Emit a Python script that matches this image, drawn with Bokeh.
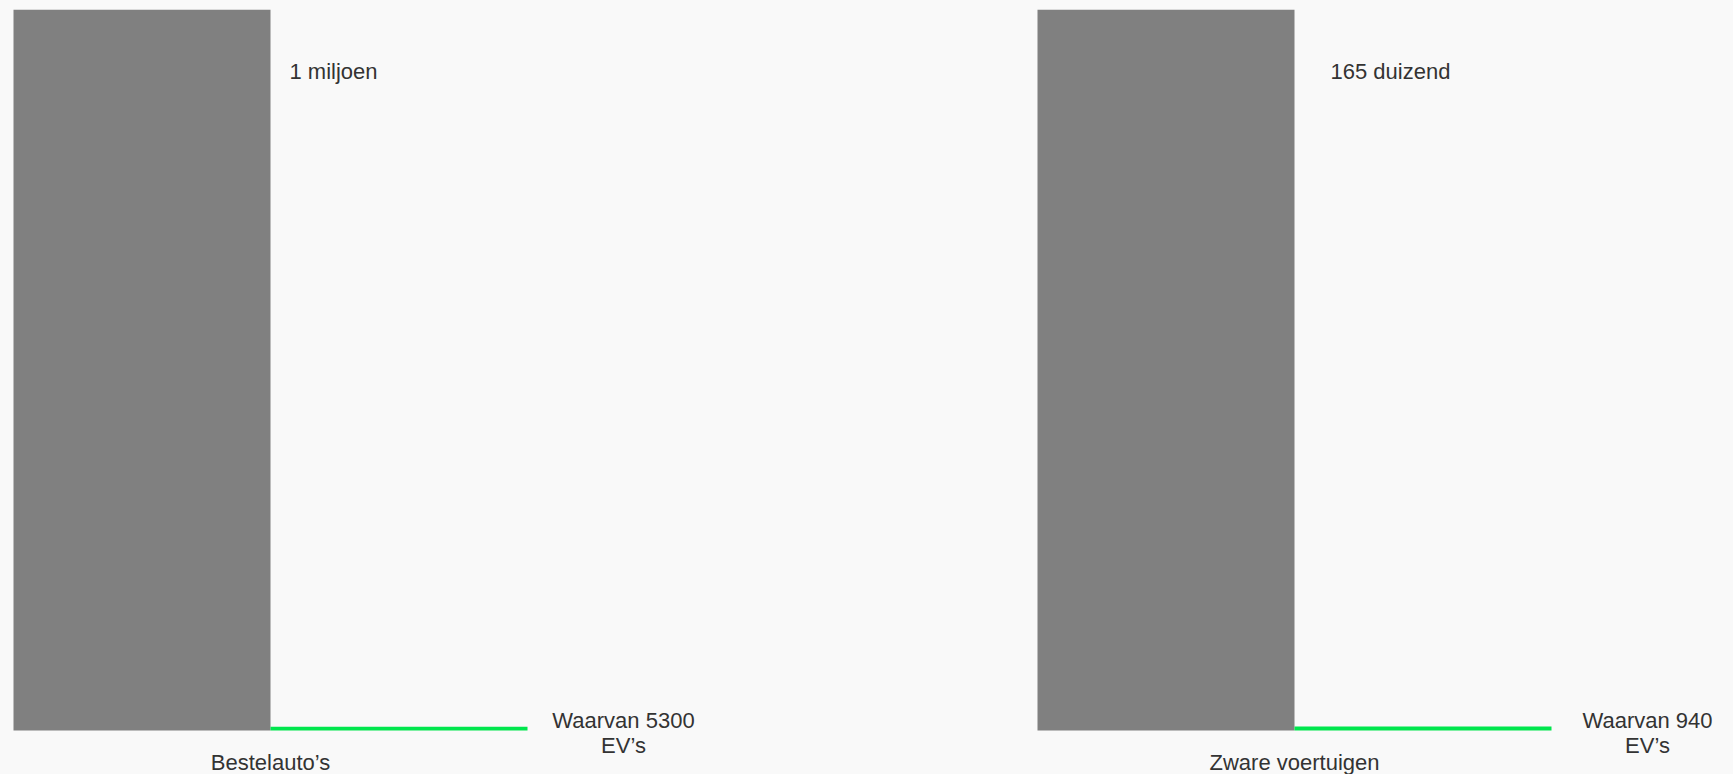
from bokeh.plotting import figure
from bokeh.layouts import row
from bokeh.models import (Range1d, FixedTicker, ColumnDataSource, LabelSet,
                          GlobalInlineStyleSheet)
from bokeh.core.properties import value
from bokeh.embed import file_html
from bokeh.resources import INLINE

# ---- data ----
categories = ["Bestelauto\u2019s", "Zware voertuigen"]
totals = [1_000_000, 165_000]
ev_counts = [5300, 940]
total_labels = ["1 miljoen", "165 duizend"]
ev_labels = ["Waarvan 5300\nEV\u2019s", "Waarvan 940\nEV\u2019s"]

# ---- style / layout ----
BG = "#f9f9f9"
GRAY = "#808080"
GREEN = "#00e64d"
TEXT = "#333333"
FONT = "Liberation Sans"
FS = "22px"
LINE_H = 25
EV_DY = 3
BAR_PX = 257          # pixel width of one bar slot
pads = [13, 5]        # pixels left of the first bar
widths = [1032, 701]  # frame widths
total_dx = [19, 36]
TOP = 9               # top border
BAR_H = 721           # pixel height of the full (gray) bar
BELOW = 28            # frame pixels below the zero line (room for two-line labels)

figs = []
for i, cat in enumerate(categories):
    w = widths[i]
    pad = pads[i]
    y0 = -BELOW * totals[i] / BAR_H
    p = figure(frame_width=w, frame_height=BAR_H + BELOW,
               output_backend="svg", toolbar_location=None,
               x_range=Range1d(-pad / BAR_PX, (w - pad) / BAR_PX),
               y_range=Range1d(y0, totals[i]),
               min_border_left=0, min_border_right=0, min_border_top=TOP,
               min_border_bottom=0,
               background_fill_color=BG, border_fill_color=BG,
               outline_line_color=None)
    vals = [totals[i], ev_counts[i]]
    cols = [GRAY, GREEN]
    src = ColumnDataSource(dict(x=[j + 0.5 for j in range(len(vals))], top=vals, color=cols))
    p.vbar(x="x", top="top", bottom=0, width=1, fill_color="color", line_color=None, source=src)

    p.xgrid.visible = False
    p.ygrid.visible = False
    p.yaxis.visible = False
    ax = p.xaxis[0]
    ax.ticker = FixedTicker(ticks=[1])
    ax.major_label_overrides = {1: cat}
    ax.axis_line_color = None
    ax.major_tick_line_color = None
    ax.minor_tick_line_color = None
    ax.major_tick_in = 0
    ax.major_tick_out = 0
    ax.major_label_standoff = -9
    ax.major_label_text_font = FONT
    ax.major_label_text_font_size = FS
    ax.major_label_text_color = TEXT

    tsrc = ColumnDataSource(dict(x=[1], y=[totals[i]], t=[total_labels[i]]))
    p.add_layout(LabelSet(x="x", y="y", text="t", source=tsrc,
                          x_offset=total_dx[i], y_offset=-69,
                          text_font=value(FONT), text_font_size=FS,
                          text_color=TEXT, text_align="left",
                          text_baseline="alphabetic"))
    lines = ev_labels[i].split("\n")
    esrc = ColumnDataSource(dict(x=[2] * len(lines), y=[0] * len(lines), t=lines,
                                 dy=[EV_DY - k * LINE_H for k in range(len(lines))]))
    p.add_layout(LabelSet(x="x", y="y", text="t", source=esrc,
                          x_offset=96, y_offset="dy",
                          text_font=value(FONT), text_font_size=FS,
                          text_color=TEXT, text_align="center",
                          text_baseline="alphabetic"))
    figs.append(p)

layout = row(*figs, stylesheets=[GlobalInlineStyleSheet(css="html, body { background: #f9f9f9; }")])
open("out.html", "w").write(file_html(layout, INLINE))
